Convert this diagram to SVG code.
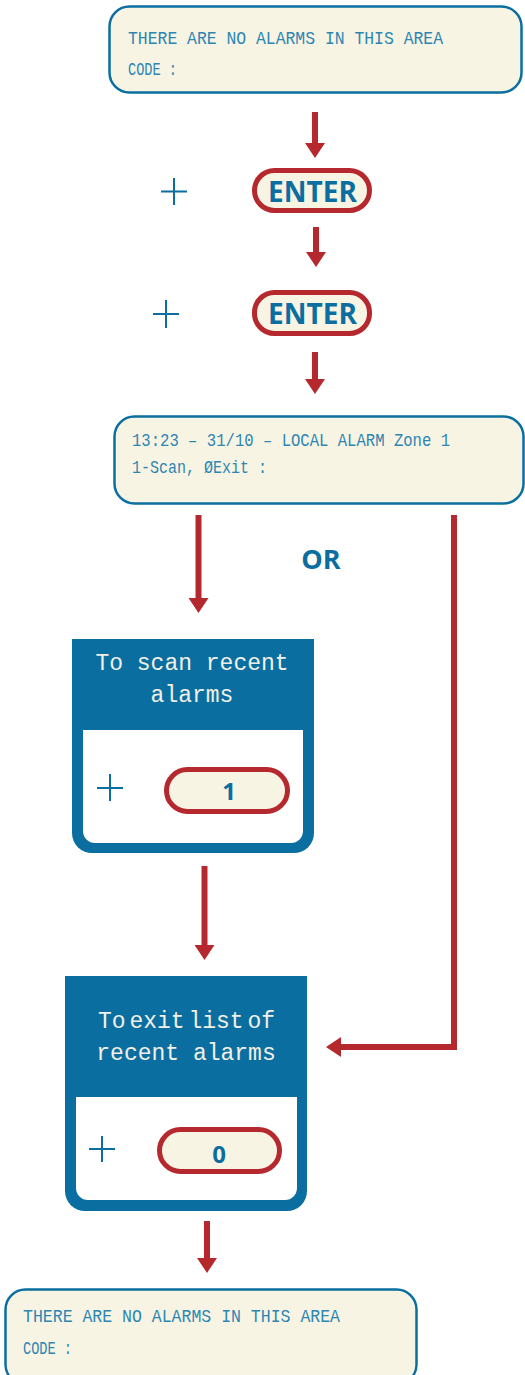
<svg xmlns="http://www.w3.org/2000/svg" width="525" height="1375" viewBox="0 0 525 1375">
<style>
.lcd{fill:#f8f4e4;stroke:#0a6fa0;stroke-width:2.5}
.lcdt{font-family:"Liberation Mono",monospace;font-size:19px;fill:#2d86b2}
.pill{fill:#f8f4e4;stroke:#b5282e;stroke-width:5}
.key{font-family:"Open Sans","DejaVu Sans",sans-serif;font-weight:bold;fill:#0a6fa0;text-anchor:middle}
.plus{stroke:#0a6fa0;stroke-width:2;fill:none}
.hdr{font-family:"Liberation Mono",monospace;font-size:23px;fill:#f2f0e6;text-anchor:middle}
.blue{fill:#0a6fa0}
.white{fill:#ffffff}
.conn{stroke:#b5282e;stroke-width:6;fill:none}
</style>
<defs>
<marker id="ah" viewBox="0 0 15 20" refX="3" refY="10" markerWidth="15" markerHeight="20" markerUnits="userSpaceOnUse" orient="auto">
<path d="M0,0 L15,10 L0,20 Z" fill="#b5282e"/>
</marker>
</defs>

<g id="connectors">
<line class="conn" x1="315" y1="112" x2="315" y2="146" marker-end="url(#ah)"/>
<line class="conn" x1="316" y1="227" x2="316" y2="255" marker-end="url(#ah)"/>
<line class="conn" x1="315" y1="352" x2="315" y2="382" marker-end="url(#ah)"/>
<line class="conn" x1="198.5" y1="515" x2="198.5" y2="601" marker-end="url(#ah)"/>
<path class="conn" d="M454,515 V1047 H338" marker-end="url(#ah)"/>
<line class="conn" x1="204.5" y1="866" x2="204.5" y2="948" marker-end="url(#ah)"/>
<line class="conn" x1="207" y1="1221" x2="207" y2="1261" marker-end="url(#ah)"/>
</g>

<g id="screen-top">
<rect class="lcd" x="109.5" y="6.5" width="412" height="86" rx="20"/>
<text class="lcdt" x="128" y="44" textLength="315" lengthAdjust="spacingAndGlyphs">THERE ARE NO ALARMS IN THIS AREA</text>
<text class="lcdt" x="128" y="75" textLength="49" lengthAdjust="spacingAndGlyphs">CODE :</text>
</g>

<g id="enter1">
<path class="plus" d="M161,191.5 H187 M174,178 V205"/>
<rect class="pill" x="254.5" y="170.5" width="115" height="40" rx="20"/>
<text class="key" x="312.5" y="202" font-size="28">ENTER</text>
</g>

<g id="enter2">
<path class="plus" d="M153,314 H179 M166,300 V328"/>
<rect class="pill" x="254.5" y="292.5" width="115" height="41" rx="20"/>
<text class="key" x="312.5" y="324" font-size="28">ENTER</text>
</g>

<g id="screen-alarm">
<rect class="lcd" x="114.5" y="416.5" width="409" height="87" rx="20"/>
<text class="lcdt" x="132" y="446" textLength="318" lengthAdjust="spacingAndGlyphs">13:23 – 31/10 – LOCAL ALARM Zone 1</text>
<text class="lcdt" x="132" y="473" textLength="135" lengthAdjust="spacingAndGlyphs">1-Scan, ØExit :</text>
</g>

<g id="or-label">
<text class="key" x="321" y="569" font-size="27">OR</text>
</g>

<g id="scan-node">
<path class="blue" d="M72,639 H314 V833 A20,20 0 0 1 294,853 H92 A20,20 0 0 1 72,833 Z"/>
<path class="white" d="M83,730 H303 V831 A12,12 0 0 1 291,843 H95 A12,12 0 0 1 83,831 Z"/>
<text class="hdr" x="192" y="670">To scan recent</text>
<text class="hdr" x="192" y="702">alarms</text>
<path class="plus" d="M97,788 H123 M110,774 V801"/>
<rect class="pill" x="166.5" y="769.5" width="121" height="42" rx="21"/>
<text class="key" x="229" y="800" font-size="24">1</text>
</g>

<g id="exit-node">
<path class="blue" d="M65,976 H307 V1191 A20,20 0 0 1 287,1211 H85 A20,20 0 0 1 65,1191 Z"/>
<path class="white" d="M76,1097 H297 V1188 A12,12 0 0 1 285,1200 H88 A12,12 0 0 1 76,1188 Z"/>
<text class="hdr" x="186.5" y="1028" word-spacing="-10">To exit list of</text>
<text class="hdr" x="186" y="1060">recent alarms</text>
<path class="plus" d="M89,1149 H115 M102,1136 V1162"/>
<rect class="pill" x="159.5" y="1129.5" width="120" height="42" rx="21"/>
<text class="key" x="219" y="1163" font-size="24">0</text>
</g>

<g id="screen-bottom">
<rect class="lcd" x="5.5" y="1289.5" width="411" height="95" rx="20"/>
<text class="lcdt" x="23" y="1322" textLength="317" lengthAdjust="spacingAndGlyphs">THERE ARE NO ALARMS IN THIS AREA</text>
<text class="lcdt" x="23" y="1354" textLength="49" lengthAdjust="spacingAndGlyphs">CODE :</text>
</g>
</svg>
